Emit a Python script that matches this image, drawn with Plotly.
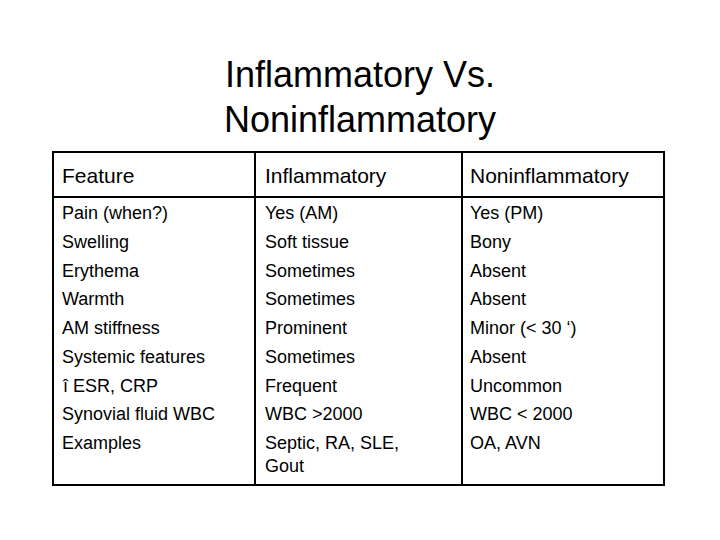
import plotly.graph_objects as go

W, H = 720, 540

title_lines = ["Inflammatory Vs.", "Noninflammatory"]
headers = ["Feature", "Inflammatory", "Noninflammatory"]
features = ["Pain (when?)", "Swelling", "Erythema", "Warmth", "AM stiffness",
            "Systemic features", "î ESR, CRP", "Synovial fluid WBC", "Examples"]
inflammatory = ["Yes (AM)", "Soft tissue", "Sometimes", "Sometimes", "Prominent",
                "Sometimes", "Frequent", "WBC >2000", "Septic, RA, SLE,<br>Gout"]
noninflammatory = ["Yes (PM)", "Bony", "Absent", "Absent", "Minor (< 30 ‘)",
                   "Absent", "Uncommon", "WBC < 2000", "OA, AVN"]

FONT = "Liberation Sans, Arial, sans-serif"
OFF = 8  # page body margin


def px(x):
    return (x - OFF) / W


def py(y):
    return 1 - (y - OFF) / H


fig = go.Figure()
ann = []
for i, t in enumerate(title_lines):
    ann.append(dict(x=px(360), y=py(74 + 46 * i), text=t, showarrow=False,
                    xref="paper", yref="paper",
                    xanchor="center", yanchor="middle",
                    font=dict(size=36, color="black", family=FONT)))

col_x = [60, 263, 468]
for x, h in zip(col_x, headers):
    ann.append(dict(x=px(x), y=py(175), text=h, showarrow=False,
                    xref="paper", yref="paper",
                    xanchor="left", yanchor="middle",
                    font=dict(size=21, color="black", family=FONT)))

for x, col in zip(col_x, [features, inflammatory, noninflammatory]):
    for j, txt in enumerate(col):
        ann.append(dict(x=px(x), y=py(201 + 28.75 * j), text=txt, showarrow=False,
                        xref="paper", yref="paper",
                        xanchor="left", yanchor="top", align="left",
                        font=dict(size=18, color="black", family=FONT)))

line = dict(color="black", width=2)
shapes = [
    dict(type="rect", xref="paper", yref="paper", x0=px(53), x1=px(664),
         y0=py(152), y1=py(485), line=line),
    dict(type="line", xref="paper", yref="paper", x0=px(53), x1=px(664),
         y0=py(197), y1=py(197), line=line),
    dict(type="line", xref="paper", yref="paper", x0=px(255), x1=px(255),
         y0=py(152), y1=py(485), line=line),
    dict(type="line", xref="paper", yref="paper", x0=px(462), x1=px(462),
         y0=py(152), y1=py(485), line=line),
]

fig.update_layout(width=W, height=H, margin=dict(l=0, r=0, t=0, b=0),
                  paper_bgcolor="white", plot_bgcolor="white",
                  xaxis=dict(visible=False), yaxis=dict(visible=False),
                  annotations=ann, shapes=shapes, showlegend=False)
fig.write_html("out.html")
